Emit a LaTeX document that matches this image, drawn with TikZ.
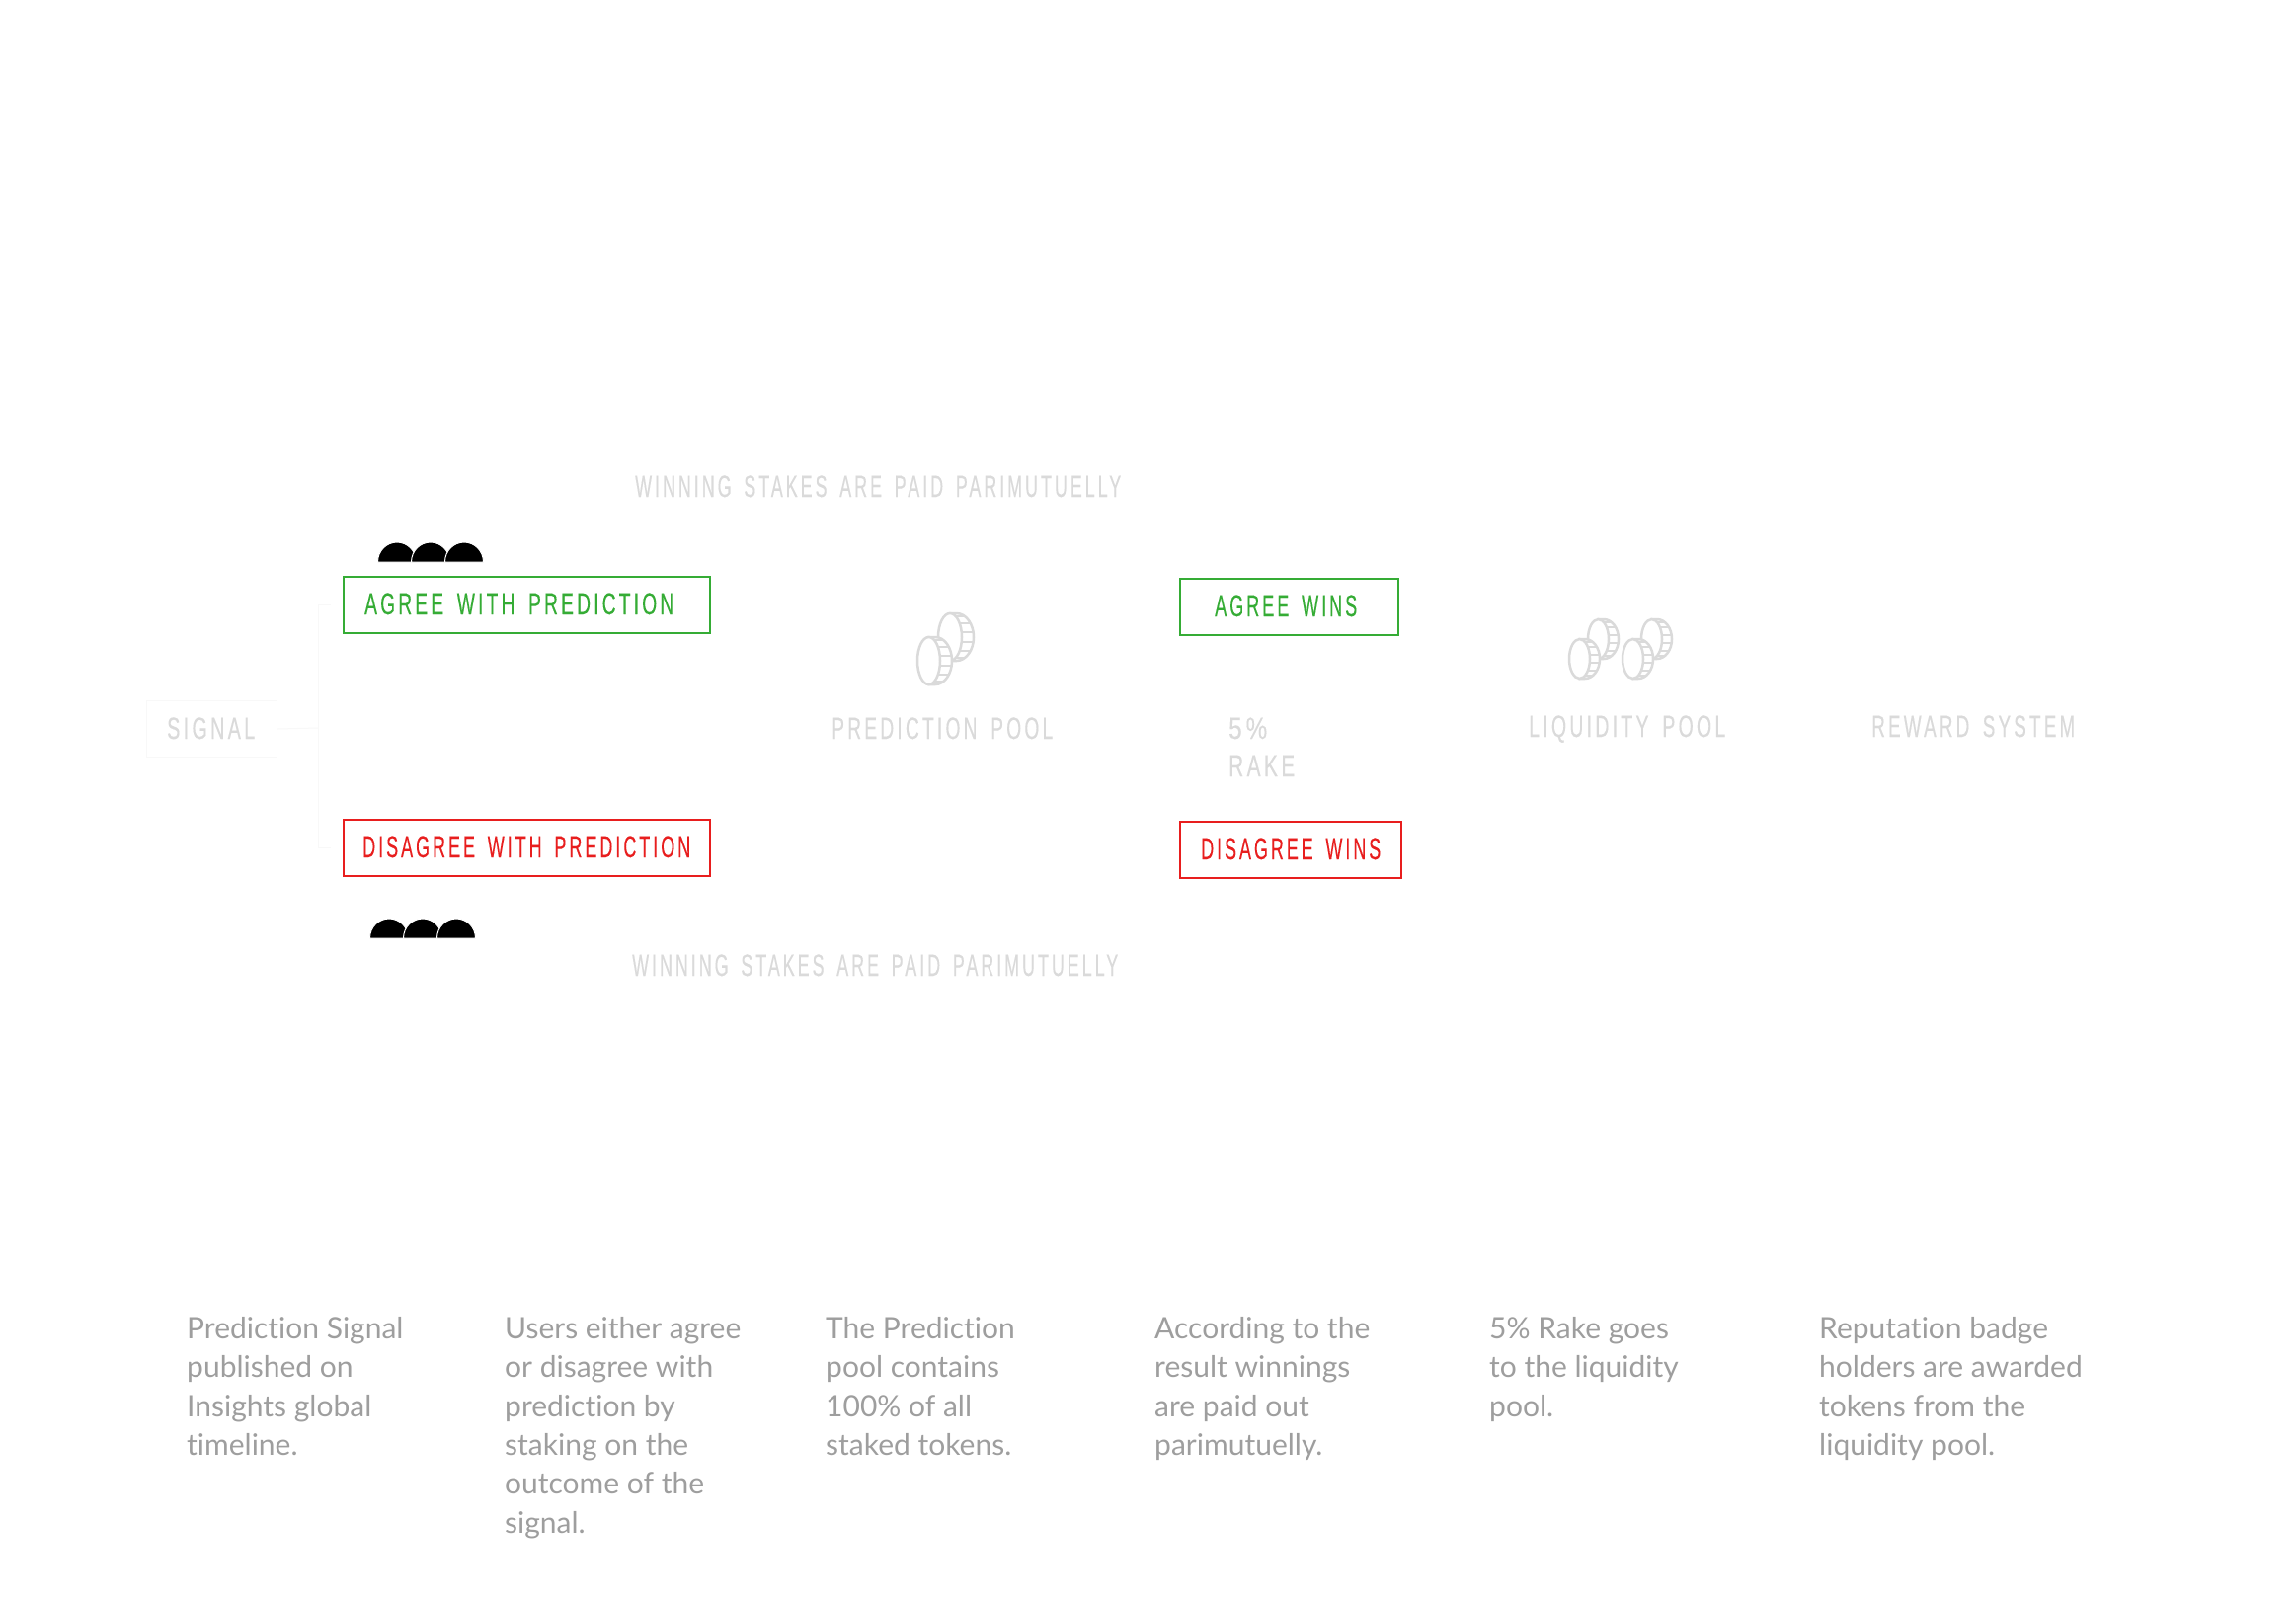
\documentclass[tikz,border=0pt]{standalone}
\usepackage{graphicx}
\usepackage{fontspec}
\setmainfont{Lato}
\newfontfamily\condfont[FakeStretch=0.6,LetterSpace=10,WordSpace=1.6,FakeBold=0.15]{Liberation Sans}
\newfontfamily\bodyfont[Ligatures=CommonOff]{Lato}
\definecolor{faint}{HTML}{DADADA}
\definecolor{fainter}{HTML}{F8F8F8}
\definecolor{okgreen}{HTML}{35AC35}
\definecolor{badred}{HTML}{E81E1E}
\definecolor{bodygray}{HTML}{9E9E9E}
\newcommand{\fitw}[2]{\resizebox{#1pt}{\height}{#2}}
\newcommand{\coinshape}[5]{% left, top, width, height, band
  \begin{scope}[shift={(#1,#2)},line width=2.5pt,draw=faint,fill=white]
    \pgfmathsetmacro{\fw}{#3-#5}
    \pgfmathsetmacro{\rx}{\fw/2}
    \pgfmathsetmacro{\ry}{#4/2}
    \filldraw (\rx,0) -- (\rx+#5*0.55,0) arc[start angle=90,end angle=-90,x radius=\rx+#5*0.45,y radius=-\ry] -- (\rx,#4) -- cycle;
    \foreach \a in {-60,-36,-12,12,36,60}{
      \draw[line width=2pt] ({\rx+\rx*cos(\a)},{\ry-\ry*sin(\a)}) -- ({\rx+#5*0.55+(\rx+#5*0.45)*cos(\a)},{\ry-\ry*sin(\a)});
    }
    \filldraw (\rx,\ry) ellipse[x radius=\rx,y radius=\ry];
  \end{scope}
}
\newcommand{\domes}[2]{%
  \foreach \dx in {19,53,87}{
    \filldraw[fill=black,draw=white,line width=1pt] (#1+\dx-19.5,#2) arc[start angle=180,end angle=0,x radius=19.5,y radius=-20] -- cycle;
  }
}
\tikzset{
  x=1pt,y=-1pt,
  cond/.style={font=\condfont\fontsize{31}{31}\selectfont,inner sep=0pt,anchor=base west},
  label/.style={cond,text=faint},
  stakebox/.style={draw=#1,line width=2.2pt,minimum height=57pt,inner sep=0pt,anchor=north west},
  signalbox/.style={draw=fainter,line width=1pt,inner sep=0pt,anchor=north west},
  wire/.style={draw=fainter,line width=1pt},
  body/.style={font=\bodyfont\fontsize{30}{39.4}\selectfont,text=bodygray,anchor=north west,inner sep=0pt,align=left}
}
\begin{document}
\begin{tikzpicture}
\useasboundingbox[fill=white] (0,0) rectangle (2325,1625);
% signal
\node[signalbox,minimum width=132pt,minimum height=57pt] (signalbox) at (148,709) {};
\node[label] (signal) at (169,748) {\fitw{89}{SIGNAL}};
% options
\node[stakebox=okgreen,minimum width=371pt] (agree) at (347,583) {};
\node[stakebox=badred,minimum width=371pt] (disagree) at (347,829) {};
\node[stakebox=okgreen,minimum width=221pt] (agreewins) at (1194,585) {};
\node[stakebox=badred,minimum width=224pt] (disagreewins) at (1194,831) {};
\node[cond,text=okgreen] (t1) at (369,622) {\fitw{313}{AGREE WITH PREDICTION}};
\node[cond,text=badred] (t2) at (367,868) {\fitw{332}{DISAGREE WITH PREDICTION}};
\node[cond,text=okgreen] (t3) at (1230,624) {\fitw{144}{AGREE WINS}};
\node[cond,text=badred] (t4) at (1216,870) {\fitw{182}{DISAGREE WINS}};
% connectors
\coordinate (hub) at (322,737);
\draw[wire] (signalbox.east) -- (hub);
\draw[wire,shorten >=12pt] (hub) |- (agree.west);
\draw[wire,shorten >=12pt] (hub) |- (disagree.west);
% domes
\domes{383}{569}
\domes{375}{950}
% coins
\coinshape{950}{621}{36}{48}{12}
\coinshape{929}{645}{35}{48}{12}
\coinshape{1608}{627}{31}{40}{10}
\coinshape{1589}{647}{31}{40}{10}
\coinshape{1662}{627}{31}{40}{10}
\coinshape{1643}{647}{31}{40}{10}
% labels
\node[label] (wt) at (643,503) {\fitw{492}{WINNING STAKES ARE PAID PARIMUTUELLY}};
\node[label] (wb) at (640,988) {\fitw{492}{WINNING STAKES ARE PAID PARIMUTUELLY}};
\node[label] (pp) at (842,748) {\fitw{224}{PREDICTION POOL}};
\node[label] (lp) at (1548,746) {\fitw{199}{LIQUIDITY POOL}};
\node[label] (rs) at (1895,746) {\fitw{206}{REWARD SYSTEM}};
\node[label] (five) at (1244,748) {\fitw{39}{5\%}};
\node[label] (rake) at (1244,786) {\fitw{67}{RAKE}};
% body
\node[body] (c1) at (189,1333) {Prediction Signal\\published on\\Insights global\\timeline.};
\node[body] (c2) at (511,1333) {Users either agree\\or disagree with\\prediction by\\staking on the\\outcome of the\\signal.};
\node[body] (c3) at (836,1333) {The Prediction\\pool contains\\100\% of all\\staked tokens.};
\node[body] (c4) at (1169,1333) {According to the\\result winnings\\are paid out\\parimutuelly.};
\node[body] (c5) at (1508,1333) {5\% Rake goes\\to the liquidity\\pool.};
\node[body] (c6) at (1842,1333) {Reputation badge\\holders are awarded\\tokens from the\\liquidity pool.};
\end{tikzpicture}
\end{document}
